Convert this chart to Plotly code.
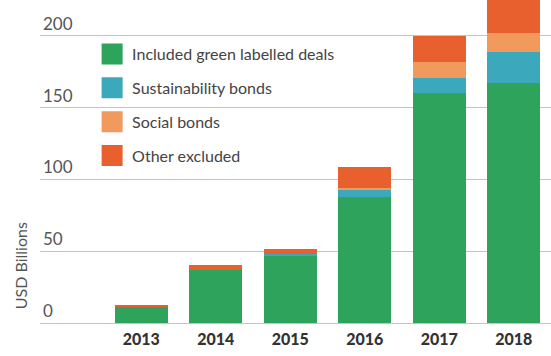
import plotly.graph_objects as go

years = ["2013", "2014", "2015", "2016", "2017", "2018"]
green_labelled = [11, 37, 47, 88, 160, 167]
sustainability = [0, 0, 1, 5, 11, 22]
social = [0, 0, 0, 1, 11, 13]
other_excluded = [1.5, 3.5, 3.5, 15, 18, 24]

series = [
    ("Included green labelled deals", green_labelled, "#2ea35b"),
    ("Sustainability bonds", sustainability, "#3ba8bb"),
    ("Social bonds", social, "#f29a5e"),
    ("Other excluded", other_excluded, "#e8602d"),
]

fig = go.Figure()
for name, vals, col in series:
    fig.add_trace(go.Bar(x=years, y=vals, name=name, legendgroup=name, showlegend=False,
                         marker=dict(color=col, line=dict(width=0))))
# legend entries (larger square swatches)
for name, vals, col in series:
    fig.add_trace(go.Scatter(x=[None], y=[None], mode="markers", name=name, legendgroup=name,
                             marker=dict(symbol="square", size=16, color=col,
                                         line=dict(color=col, width=5))))

fig.update_layout(
    barmode="stack",
    bargap=0.29,
    width=551, height=356,
    margin=dict(l=40, r=0, t=0, b=33),
    paper_bgcolor="white", plot_bgcolor="white",
    font=dict(family="Lato", color="#555"),
    legend=dict(x=0.102, y=0.885, xanchor="left", yanchor="top", itemsizing="trace",
                font=dict(size=16, color="#444"), bgcolor="rgba(0,0,0,0)",
                tracegroupgap=10, traceorder="grouped"),
    xaxis=dict(range=[-1.36, 5.5], showgrid=False, showline=False, ticks="",
               tickfont=dict(size=16, color="#333", family="Lato", weight=900),
               ticklabelstandoff=5),
    yaxis=dict(range=[0, 225], tickvals=[0, 50, 100, 150, 200], ticklabelposition="inside top",
               showgrid=True, gridcolor="#c4c4c4", gridwidth=1.2, zeroline=True,
               zerolinecolor="#c4c4c4", zerolinewidth=1.2, showline=False,
               tickfont=dict(size=17, color="#555")),
    annotations=[dict(text="USD Billions", xref="paper", yref="paper", x=-0.039, y=0.176,
                      textangle=-90, showarrow=False, font=dict(size=16, color="#555"),
                      xanchor="center", yanchor="middle")],
)

fig.write_html("out.html")
